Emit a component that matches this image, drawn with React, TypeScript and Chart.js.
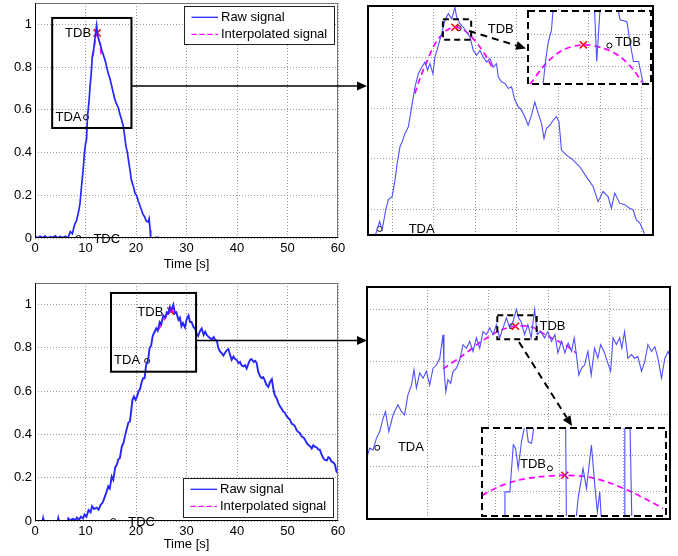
import React, { useEffect, useRef } from "react";
import { Chart, registerables } from "chart.js";

Chart.register(...registerables);

const FONT = '"Liberation Sans", Arial, Helvetica, sans-serif';
const BLUE = "#2626ff";
const MAGENTA = "#ff00ff";
const RED = "#ff0000";
const GRID = "#9a9a9a";

const seriesNames = ["Raw signal", "Interpolated signal"];
const markerNames = ["TDA", "TDB", "TDC"];
const xTitleText = "Time [s]";

// ---------- main plot ticks ----------
const mainXTicks = [0, 10, 20, 30, 40, 50, 60];
const mainYTicks = [0, 0.2, 0.4, 0.6, 0.8, 1];

// ---------- TOP: main plot ----------
const topMainT = [0, 0.5, 1, 1.5, 2, 2.5, 3, 3.5, 4, 4.5, 5, 5.5, 6, 6.5, 7, 7.4, 7.8, 8.2, 8.6, 8.9, 9.2, 9.5, 9.8, 10.0, 10.2, 10.4, 10.7, 10.9, 11.1, 11.35, 11.6, 11.9, 12.2, 12.4, 12.6, 12.9, 13.2, 13.5, 13.9, 14.2, 14.5, 14.8, 15.1, 15.5, 15.8, 16.1, 16.5, 16.8, 17.2, 17.5, 17.8, 18.0, 18.3, 18.6, 18.8, 19.1, 19.5, 19.8, 20.1, 20.5, 20.8, 21.1, 21.4, 21.7, 22.0, 22.4, 22.6, 22.8, 22.9, 23.5, 24.3, 24.5];
const topMainV = [0.01, 0, 0.008, 0.002, 0.009, 0, 0.006, 0.003, 0.01, 0, 0.007, 0.001, 0.008, 0, 0.03, 0.02, 0.06, 0.08, 0.12, 0.16, 0.24, 0.31, 0.4, 0.44, 0.46, 0.57, 0.64, 0.71, 0.76, 0.85, 0.88, 0.94, 0.995, 0.95, 0.93, 0.91, 0.88, 0.86, 0.83, 0.8, 0.77, 0.75, 0.72, 0.68, 0.65, 0.63, 0.61, 0.58, 0.55, 0.52, 0.47, 0.43, 0.4, 0.35, 0.32, 0.27, 0.24, 0.21, 0.2, 0.17, 0.15, 0.13, 0.11, 0.1, 0.08, 0.075, 0.09, 0.037, 0, 0, 0.004, 0];
const topMainInterpT = [11.5, 11.8, 12.05, 12.3, 12.6, 12.85, 13.1];
const topMainInterpV = [0.85, 0.9, 0.94, 0.96, 0.94, 0.9, 0.86];
const topMainTDA = { x: 10.1, y: 0.565 };
const topMainTDB = { x: 12.3, y: 0.96 };
const topMainTDC = { x: 8.6, y: 0 };
const topMainBox = { x0: 3.4, x1: 19.1, y0: 0.515, y1: 1.03 };

// ---------- TOP: zoomed plot ----------
const topZoomXTicks = [11, 12, 13, 14, 15, 16, 17];
const topZoomYTicks = [0.6, 0.7, 0.8, 0.9];
const topZoomT = [10.55, 10.6, 10.7, 10.76, 10.85, 10.91, 11.0, 11.07, 11.12, 11.19, 11.25, 11.31, 11.39, 11.47, 11.55, 11.63, 11.71, 11.79, 11.85, 11.91, 11.98, 12.03, 12.11, 12.19, 12.27, 12.35, 12.43, 12.47, 12.51, 12.55, 12.63, 12.71, 12.79, 12.87, 12.95, 13.03, 13.11, 13.19, 13.27, 13.35, 13.43, 13.51, 13.55, 13.63, 13.71, 13.79, 13.87, 13.95, 14.03, 14.11, 14.19, 14.27, 14.35, 14.43, 14.51, 14.59, 14.65, 14.71, 14.79, 14.87, 14.95, 15.01, 15.07, 15.19, 15.35, 15.51, 15.67, 15.83, 15.95, 16.07, 16.19, 16.27, 16.35, 16.47, 16.59, 16.71, 16.79, 16.87, 16.95, 17.03, 17.07, 17.1];
const topZoomV = [0.54, 0.549, 0.576, 0.559, 0.6, 0.619, 0.625, 0.658, 0.69, 0.724, 0.735, 0.75, 0.763, 0.803, 0.842, 0.868, 0.881, 0.891, 0.875, 0.888, 0.868, 0.901, 0.924, 0.947, 0.974, 0.987, 0.977, 0.987, 1.0, 0.98, 0.967, 0.96, 0.95, 0.941, 0.914, 0.905, 0.914, 0.901, 0.891, 0.898, 0.881, 0.888, 0.862, 0.852, 0.849, 0.839, 0.842, 0.816, 0.803, 0.796, 0.783, 0.766, 0.786, 0.812, 0.79, 0.77, 0.74, 0.76, 0.766, 0.776, 0.783, 0.773, 0.717, 0.707, 0.697, 0.684, 0.664, 0.645, 0.615, 0.635, 0.625, 0.602, 0.632, 0.612, 0.609, 0.602, 0.599, 0.579, 0.573, 0.559, 0.549, 0.54];
const topZoomInterpT = [11.55, 11.67, 11.83, 11.99, 12.15, 12.31, 12.51, 12.71, 12.91, 13.11, 13.27, 13.43];
const topZoomInterpV = [0.829, 0.859, 0.891, 0.921, 0.941, 0.954, 0.96, 0.955, 0.941, 0.921, 0.901, 0.877];
const topZoomTDA = { x: 10.7, y: 0.561 };
const topZoomTDBx = { x: 12.51, y: 0.96 };
const topZoomTDBo = { x: 12.6, y: 0.958 };
const topZoomBox = { x0: 12.22, x1: 12.9, y0: 0.935, y1: 0.976 };

// ---------- TOP: inset ----------
const topInsetXTicks = [12.553];
const topInsetYTicks = [0.9448, 0.963];
const topInsetT = [12.298, 12.318, 12.331, 12.35, 12.368, 12.585, 12.588, 12.6, 12.618, 12.621, 12.711, 12.718, 12.729, 12.767, 12.785, 12.803, 12.831, 12.841, 12.856, 12.868];
const topInsetV = [0.93, 0.9486, 0.9579, 0.9654, 0.99, 0.99, 0.9766, 0.9476, 0.9766, 0.99, 0.99, 0.9766, 0.971, 0.97, 0.9579, 0.9476, 0.9476, 0.943, 0.9356, 0.929];
const topInsetInterpT = [12.232, 12.322, 12.414, 12.526, 12.637, 12.729, 12.803, 12.85];
const topInsetInterpV = [0.935, 0.9468, 0.9542, 0.957, 0.9551, 0.9504, 0.943, 0.9359];
const topInsetTDBx = { x: 12.526, y: 0.957 };
const topInsetTDBo = { x: 12.67, y: 0.9566 };

// ---------- BOTTOM: main plot ----------
const botMainT = [0, 1.5, 1.6, 1.7, 4.5, 4.6, 4.7, 6.5, 6.6, 7.0, 7.5, 8.0, 8.3, 8.7, 9.1, 9.5, 9.8, 10.2, 10.6, 11.0, 11.3, 11.7, 12.2, 12.6, 13.0, 13.4, 13.8, 14.1, 14.5, 14.8, 15.2, 15.5, 15.9, 16.2, 16.5, 16.8, 17.2, 17.5, 17.8, 18.1, 18.5, 18.8, 19.0, 19.3, 19.6, 19.9, 20.2, 20.5, 20.8, 21.1, 21.4, 21.7, 22.0, 22.4, 22.7, 23.0, 23.3, 23.6, 24.0, 24.3, 24.7, 25.0, 25.4, 25.8, 26.1, 26.4, 26.7, 27.0, 27.4, 27.7, 28.0, 28.4, 28.7, 29.0, 29.3, 29.7, 30.0, 30.4, 30.7, 31.0, 31.4, 31.7, 32.0, 32.3, 32.7, 33.0, 33.4, 33.7, 34.0, 34.4, 34.7, 35.0, 35.4, 35.7, 36.0, 36.3, 36.6, 37.0, 37.3, 37.7, 38.0, 38.3, 38.6, 38.95, 39.3, 39.6, 39.9, 40.3, 40.6, 40.9, 41.3, 41.6, 41.9, 42.3, 42.6, 42.9, 43.3, 43.6, 43.9, 44.2, 44.55, 44.9, 45.2, 45.5, 45.8, 46.2, 46.5, 46.9, 47.2, 47.5, 47.8, 48.2, 48.5, 48.8, 49.2, 49.5, 49.8, 50.2, 50.5, 50.8, 51.2, 51.5, 51.8, 52.2, 52.5, 52.8, 53.2, 53.5, 53.8, 54.2, 54.5, 54.8, 55.1, 55.4, 55.8, 56.1, 56.4, 56.7, 57.1, 57.4, 57.8, 58.1, 58.4, 58.7, 59.1, 59.4, 59.7, 60];
const botMainV = [0, 0, 0.012, 0, 0, 0.012, 0, 0, 0.012, 0.003, 0.01, 0.004, 0.016, 0.006, 0.02, 0.012, 0.03, 0.02, 0.05, 0.04, 0.068, 0.055, 0.062, 0.052, 0.075, 0.085, 0.11, 0.13, 0.16, 0.15, 0.205, 0.19, 0.25, 0.26, 0.285, 0.29, 0.345, 0.36, 0.39, 0.42, 0.455, 0.46, 0.5, 0.56, 0.575, 0.56, 0.575, 0.6, 0.61, 0.64, 0.66, 0.66, 0.72, 0.745, 0.8, 0.81, 0.855, 0.87, 0.89, 0.88, 0.92, 0.91, 0.95, 0.94, 0.965, 0.96, 0.99, 0.975, 1.0, 0.96, 0.965, 0.93, 0.94, 0.9, 0.915, 0.895, 0.93, 0.95, 0.92, 0.92, 0.895, 0.89, 0.865, 0.855, 0.88, 0.89, 0.86, 0.875, 0.86, 0.85, 0.845, 0.84, 0.85, 0.835, 0.835, 0.8, 0.785, 0.775, 0.765, 0.78, 0.79, 0.795, 0.77, 0.745, 0.76, 0.75, 0.745, 0.73, 0.735, 0.72, 0.715, 0.72, 0.705, 0.73, 0.745, 0.748, 0.735, 0.74, 0.73, 0.69, 0.67, 0.66, 0.665, 0.65, 0.63, 0.62, 0.64, 0.655, 0.61, 0.58, 0.57, 0.545, 0.53, 0.52, 0.505, 0.5, 0.485, 0.475, 0.468, 0.45, 0.445, 0.437, 0.42, 0.41, 0.405, 0.39, 0.385, 0.375, 0.36, 0.35, 0.345, 0.335, 0.35, 0.344, 0.34, 0.33, 0.33, 0.31, 0.29, 0.282, 0.28, 0.295, 0.29, 0.275, 0.27, 0.26, 0.228, 0.22];
const botMainTDA = { x: 22.2, y: 0.74 };
const botMainTDB = { x: 26.9, y: 0.97 };
const botMainTDC = { x: 15.5, y: 0 };
const botMainBox = { x0: 15.05, x1: 31.9, y0: 0.69, y1: 1.054 };

// ---------- BOTTOM: zoomed plot ----------
const botZoomXTicks = [24, 26, 28, 30];
const botZoomYTicks = [0.7, 0.8, 0.9, 1.0];
const botZoomT = [21.9, 21.98, 22.09, 22.2, 22.31, 22.42, 22.53, 22.61, 22.72, 22.86, 23.02, 23.14, 23.24, 23.35, 23.47, 23.55, 23.63, 23.74, 23.85, 23.96, 24.07, 24.18, 24.29, 24.4, 24.51, 24.54, 24.6, 24.67, 24.76, 24.84, 24.95, 25.06, 25.17, 25.28, 25.39, 25.5, 25.61, 25.72, 25.83, 25.94, 26.05, 26.16, 26.27, 26.38, 26.49, 26.6, 26.71, 26.82, 26.93, 27.0, 27.09, 27.2, 27.31, 27.42, 27.53, 27.62, 27.73, 27.86, 27.97, 28.09, 28.2, 28.3, 28.42, 28.53, 28.64, 28.75, 28.84, 28.91, 28.99, 29.08, 29.18, 29.29, 29.4, 29.51, 29.62, 29.71, 29.82, 29.93, 30.04, 30.12, 30.23, 30.34, 30.41, 30.5, 30.61, 30.73, 30.83, 30.94, 31.06, 31.17, 31.27, 31.39, 31.5, 31.6, 31.72, 31.83, 31.94, 32.0];
const botZoomV = [0.7, 0.716, 0.735, 0.732, 0.754, 0.767, 0.792, 0.805, 0.767, 0.799, 0.818, 0.805, 0.799, 0.837, 0.856, 0.885, 0.85, 0.879, 0.869, 0.882, 0.856, 0.888, 0.894, 0.907, 0.952, 0.888, 0.843, 0.866, 0.859, 0.882, 0.888, 0.904, 0.933, 0.926, 0.939, 0.92, 0.946, 0.926, 0.958, 0.952, 0.965, 0.952, 0.971, 0.946, 0.965, 0.984, 0.965, 0.977, 1.0, 0.984, 0.977, 0.952, 0.971, 0.946, 1.0, 0.952, 0.958, 0.946, 0.958, 0.939, 0.952, 0.917, 0.939, 0.917, 0.936, 0.92, 0.946, 0.914, 0.875, 0.888, 0.894, 0.92, 0.875, 0.926, 0.907, 0.933, 0.92, 0.901, 0.882, 0.946, 0.933, 0.946, 0.926, 0.958, 0.907, 0.914, 0.907, 0.91, 0.882, 0.901, 0.933, 0.92, 0.929, 0.907, 0.869, 0.907, 0.92, 0.91];
const botInterpT = [24.51, 25.11, 25.77, 26.43, 26.9, 27.42, 27.97, 28.53, 28.91];
const botInterpV = [0.887, 0.91, 0.939, 0.961, 0.968, 0.967, 0.949, 0.933, 0.917];
const botZoomTDA = { x: 22.34, y: 0.736 };
const botZoomTDBx = { x: 26.9, y: 0.968 };
const botZoomTDBo = { x: 26.78, y: 0.968 };
const botZoomBox = { x0: 26.3, x1: 27.6, y0: 0.943, y1: 0.989 };

// ---------- BOTTOM: inset ----------
const botInsetXTicks = [26.396, 26.85, 27.301];
const botInsetYTicks = [0.9556, 0.9748];
const botInsetT = [26.457, 26.462, 26.497, 26.521, 26.537, 26.556, 26.579, 26.603, 26.615, 26.627, 26.65, 26.662, 26.674, 26.89, 26.897, 26.956, 26.979, 27.014, 27.038, 27.073, 27.097, 27.115, 27.132, 27.148, 27.308, 27.309, 27.344, 27.36];
const botInsetV = [0.935, 0.9556, 0.9556, 0.9801, 0.9783, 0.9679, 0.9818, 0.9906, 0.9888, 0.9818, 0.981, 0.9871, 0.998, 0.998, 0.935, 0.935, 0.9521, 0.9679, 0.9574, 0.9801, 0.959, 0.9451, 0.9556, 0.935, 0.935, 0.998, 0.998, 0.935];
const botInsetInterpT = [26.302, 26.415, 26.556, 26.697, 26.88, 27.05, 27.214, 27.355, 27.496, 27.579];
const botInsetInterpV = [0.9538, 0.9582, 0.9617, 0.9634, 0.9643, 0.9634, 0.96, 0.9556, 0.9503, 0.9469];
const botInsetTDBx = { x: 26.885, y: 0.9643 };
const botInsetTDBo = { x: 26.78, y: 0.9679 };

type P = { x: number; y: number };
const pts = (t: number[], v: number[]): P[] => t.map((x, i) => ({ x, y: v[i] }));

interface Label { text: string; at: P; dx: number; dy: number; align: CanvasTextAlign }
interface Box { x0: number; x1: number; y0: number; y1: number }
interface Panel {
  key: string;
  left: number; top: number; width: number; height: number;
  pad: { left: number; top: number; right: number; bottom: number };
  yW: number; xH: number;
  xR: [number, number]; yR: [number, number];
  xTicks: number[]; yTicks: number[];
  tickLabels: boolean; titlePad?: number;
  raw: P[]; rawWidth: number; rawColor: string;
  interp: P[]; interpWidth: number;
  crosses: P[]; circles: P[];
  labels: Label[];
  box?: Box; boxDashed?: boolean;
  frame: "axes" | "thick" | "dashed";
  legend?: { x: number; y: number; w: number; h: number };
  whiteBg?: boolean;
}

const fmt = (v: number) => String(Math.round(v * 10) / 10);

function overlay(p: Panel) {
  return {
    id: "ov_" + p.key,
    beforeDraw(chart: any) {
      if (!p.whiteBg) return;
      const { ctx, chartArea: a } = chart;
      ctx.save();
      ctx.fillStyle = "#fff";
      ctx.fillRect(a.left - 1, a.top - 1, a.right - a.left + 2, a.bottom - a.top + 2);
      ctx.restore();
    },
    afterDraw(chart: any) {
      const { ctx, chartArea: a, scales } = chart;
      const xs = scales.x, ys = scales.y;
      ctx.save();
      if (p.box) {
        const b = p.box;
        const x0 = xs.getPixelForValue(b.x0), x1 = xs.getPixelForValue(b.x1);
        const y0 = ys.getPixelForValue(b.y0), y1 = ys.getPixelForValue(b.y1);
        ctx.strokeStyle = "#000";
        ctx.lineWidth = 2;
        ctx.setLineDash(p.boxDashed ? [6, 4] : []);
        ctx.strokeRect(x0, y1, x1 - x0, y0 - y1);
        ctx.setLineDash([]);
      }
      ctx.font = `13px ${FONT}`;
      ctx.fillStyle = "#000";
      ctx.textBaseline = "middle";
      for (const l of p.labels) {
        ctx.textAlign = l.align;
        ctx.fillText(l.text, xs.getPixelForValue(l.at.x) + l.dx, ys.getPixelForValue(l.at.y) + l.dy);
      }
      if (p.legend) {
        const L = p.legend;
        ctx.fillStyle = "#fff";
        ctx.fillRect(L.x, L.y, L.w, L.h);
        ctx.strokeStyle = "#222";
        ctx.lineWidth = 1;
        ctx.strokeRect(L.x + 0.5, L.y + 0.5, L.w, L.h);
        const rows = [
          { name: seriesNames[0], color: BLUE, dash: [] as number[], dy: 11.3 },
          { name: seriesNames[1], color: MAGENTA, dash: [5, 3], dy: 28.3 },
        ];
        for (const r of rows) {
          ctx.strokeStyle = r.color;
          ctx.lineWidth = 1.3;
          ctx.setLineDash(r.dash);
          ctx.beginPath();
          ctx.moveTo(L.x + 7.5, L.y + r.dy);
          ctx.lineTo(L.x + 34, L.y + r.dy);
          ctx.stroke();
          ctx.setLineDash([]);
          ctx.fillStyle = "#000";
          ctx.textAlign = "left";
          ctx.fillText(r.name, L.x + 37, L.y + r.dy);
        }
      }
      const w = a.right - a.left, h = a.bottom - a.top;
      if (p.frame === "axes") {
        ctx.lineWidth = 1;
        ctx.strokeStyle = "#777";
        ctx.beginPath();
        ctx.moveTo(a.left, a.top + 0.5);
        ctx.lineTo(a.right - 0.5, a.top + 0.5);
        ctx.lineTo(a.right - 0.5, a.bottom);
        ctx.stroke();
        ctx.strokeStyle = "#000";
        ctx.beginPath();
        ctx.moveTo(a.left + 0.5, a.top);
        ctx.lineTo(a.left + 0.5, a.bottom - 0.5);
        ctx.lineTo(a.right, a.bottom - 0.5);
        ctx.stroke();
      } else {
        ctx.strokeStyle = "#000";
        ctx.lineWidth = 2;
        ctx.setLineDash(p.frame === "dashed" ? [7, 4] : []);
        ctx.strokeRect(a.left, a.top, w, h);
        ctx.setLineDash([]);
      }
      ctx.restore();
    },
  };
}

function config(p: Panel): any {
  const tickFont = { family: FONT, size: 13 };
  const mkAxis = (isX: boolean) => ({
    type: "linear",
    min: isX ? p.xR[0] : p.yR[0],
    max: isX ? p.xR[1] : p.yR[1],
    afterBuildTicks: (s: any) => {
      s.ticks = (isX ? p.xTicks : p.yTicks).map((v) => ({ value: v }));
    },
    afterFit: (s: any) => {
      if (isX) s.height = p.xH; else s.width = p.yW;
      s.paddingLeft = 0; s.paddingRight = 0; s.paddingTop = 0; s.paddingBottom = 0;
    },
    ticks: {
      display: p.tickLabels,
      font: tickFont,
      color: "#000",
      padding: 3,
      maxRotation: 0,
      autoSkip: false,
      callback: (v: any) => fmt(Number(v)),
    },
    grid: { color: GRID, lineWidth: 1, drawTicks: false },
    border: { display: false, dash: [1, 2] },
    title:
      isX && p.titlePad !== undefined
        ? { display: true, text: xTitleText, color: "#000", font: tickFont, padding: { top: 0, bottom: p.titlePad } }
        : { display: false },
  });
  return {
    type: "scatter",
    data: {
      datasets: [
        { label: seriesNames[0], data: p.raw, showLine: true, borderColor: p.rawColor, borderWidth: p.rawWidth, pointRadius: 0, tension: 0, clip: 0 },
        { label: seriesNames[1], data: p.interp, showLine: true, borderColor: MAGENTA, borderWidth: p.interpWidth, borderDash: [6, 4], pointRadius: 0, tension: 0.3, clip: 0 },
        { label: markerNames[1], data: p.crosses, showLine: false, pointStyle: "crossRot", pointRadius: 5, borderColor: RED, borderWidth: 1.5, clip: 0 },
        { label: "markers", data: p.circles, showLine: false, pointStyle: "circle", pointRadius: 2.5, borderColor: "#000", backgroundColor: "rgba(0,0,0,0)", borderWidth: 1, clip: 0 },
      ],
    },
    options: {
      responsive: false,
      animation: false,
      devicePixelRatio: 1,
      events: [],
      layout: { padding: p.pad, autoPadding: false },
      plugins: { legend: { display: false }, tooltip: { enabled: false }, title: { display: false } },
      scales: { x: mkAxis(true), y: mkAxis(false) },
    },
    plugins: [overlay(p)],
  };
}

const panels: Panel[] = [
  {
    key: "topMain", left: 0, top: 0, width: 350, height: 280,
    pad: { left: 0, top: 3, right: 12, bottom: 0 }, yW: 35, xH: 42,
    xR: [0, 60], yR: [0, 1.1], xTicks: mainXTicks, yTicks: mainYTicks, tickLabels: true, titlePad: 8,
    raw: pts(topMainT, topMainV), rawWidth: 1.7, rawColor: BLUE,
    interp: pts(topMainInterpT, topMainInterpV), interpWidth: 1.4,
    crosses: [topMainTDB], circles: [topMainTDA, topMainTDC],
    labels: [
      { text: markerNames[1], at: topMainTDB, dx: -6, dy: 1, align: "right" },
      { text: markerNames[0], at: topMainTDA, dx: -4.5, dy: 0, align: "right" },
      { text: markerNames[2], at: topMainTDC, dx: 15, dy: 1, align: "left" },
    ],
    box: topMainBox, frame: "axes", legend: { x: 184, y: 6, w: 150, h: 38 },
  },
  {
    key: "botMain", left: 0, top: 278, width: 350, height: 278,
    pad: { left: 0, top: 5, right: 12, bottom: 0 }, yW: 35, xH: 35,
    xR: [0, 60], yR: [0, 1.1], xTicks: mainXTicks, yTicks: mainYTicks, tickLabels: true, titlePad: 3.5,
    raw: pts(botMainT, botMainV), rawWidth: 1.9, rawColor: BLUE,
    interp: pts(botInterpT, botInterpV), interpWidth: 1.4,
    crosses: [botMainTDB], circles: [botMainTDA, botMainTDC],
    labels: [
      { text: markerNames[1], at: botMainTDB, dx: -7.5, dy: 1, align: "right" },
      { text: markerNames[0], at: botMainTDA, dx: -7, dy: 0, align: "right" },
      { text: markerNames[2], at: botMainTDC, dx: 15, dy: 1, align: "left" },
    ],
    box: botMainBox, frame: "axes", legend: { x: 183, y: 200, w: 150, h: 39 },
  },
  {
    key: "topZoom", left: 360, top: 0, width: 300, height: 242,
    pad: { left: 8, top: 6, right: 7, bottom: 7 }, yW: 0, xH: 0,
    xR: [10.42, 17.27], yR: [0.549, 1.002], xTicks: topZoomXTicks, yTicks: topZoomYTicks, tickLabels: false,
    raw: pts(topZoomT, topZoomV), rawWidth: 1.1, rawColor: "#4f4fff",
    interp: pts(topZoomInterpT, topZoomInterpV), interpWidth: 1.7,
    crosses: [topZoomTDBx], circles: [topZoomTDA, topZoomTDBo],
    labels: [
      { text: markerNames[0], at: topZoomTDA, dx: 29, dy: 0, align: "left" },
      { text: markerNames[1], at: topZoomTDBo, dx: 29, dy: 1.5, align: "left" },
    ],
    box: topZoomBox, boxDashed: true, frame: "thick",
  },
  {
    key: "botZoom", left: 360, top: 280, width: 318, height: 245,
    pad: { left: 7, top: 7, right: 8, bottom: 6 }, yW: 0, xH: 0,
    xR: [22, 32], yR: [0.6, 1.043], xTicks: botZoomXTicks, yTicks: botZoomYTicks, tickLabels: false,
    raw: pts(botZoomT, botZoomV), rawWidth: 1.1, rawColor: "#4f4fff",
    interp: pts(botInterpT, botInterpV), interpWidth: 1.7,
    crosses: [botZoomTDBx], circles: [botZoomTDA, botZoomTDBo],
    labels: [
      { text: markerNames[0], at: botZoomTDA, dx: 20.6, dy: 0, align: "left" },
      { text: markerNames[1], at: botZoomTDBx, dx: 24, dy: 0.5, align: "left" },
    ],
    box: botZoomBox, boxDashed: true, frame: "thick",
  },
  {
    key: "topInset", left: 520, top: 3, width: 140, height: 90,
    pad: { left: 8, top: 8, right: 9, bottom: 9 }, yW: 0, xH: 0,
    xR: [12.22, 12.9], yR: [0.935, 0.976], xTicks: topInsetXTicks, yTicks: topInsetYTicks, tickLabels: false,
    raw: pts(topInsetT, topInsetV), rawWidth: 1.1, rawColor: "#4f4fff",
    interp: pts(topInsetInterpT, topInsetInterpV), interpWidth: 1.7,
    crosses: [topInsetTDBx], circles: [topInsetTDBo],
    labels: [{ text: markerNames[1], at: topInsetTDBo, dx: 5.5, dy: -3, align: "left" }],
    frame: "dashed", whiteBg: true,
  },
  {
    key: "botInset", left: 474, top: 420, width: 200, height: 104,
    pad: { left: 8, top: 8, right: 8, bottom: 8 }, yW: 0, xH: 0,
    xR: [26.3, 27.6], yR: [0.943, 0.989], xTicks: botInsetXTicks, yTicks: botInsetYTicks, tickLabels: false,
    raw: pts(botInsetT, botInsetV), rawWidth: 1.1, rawColor: "#4f4fff",
    interp: pts(botInsetInterpT, botInsetInterpV), interpWidth: 1.7,
    crosses: [botInsetTDBx], circles: [botInsetTDBo],
    labels: [{ text: markerNames[1], at: botInsetTDBo, dx: -4, dy: -3.5, align: "right" }],
    frame: "dashed", whiteBg: true,
  },
];

function ChartPanel({ p }: { p: Panel }) {
  const ref = useRef<HTMLCanvasElement>(null);
  useEffect(() => {
    const chart = new Chart(ref.current as HTMLCanvasElement, config(p));
    return () => chart.destroy();
  }, [p]);
  return (
    <canvas
      ref={ref}
      width={p.width}
      height={p.height}
      style={{ position: "absolute", left: p.left, top: p.top, width: p.width, height: p.height }}
    />
  );
}

function Arrow({ x1, y1, x2, y2, dashed, w }: { x1: number; y1: number; x2: number; y2: number; dashed?: boolean; w: number }) {
  const ang = Math.atan2(y2 - y1, x2 - x1);
  const L = 10, H = 4.5;
  const bx = x2 - L * Math.cos(ang), by = y2 - L * Math.sin(ang);
  const px = -Math.sin(ang) * H, py = Math.cos(ang) * H;
  return (
    <g>
      <line x1={x1} y1={y1} x2={bx} y2={by} stroke="#000" strokeWidth={w} strokeDasharray={dashed ? "7,5" : undefined} />
      <polygon points={`${x2},${y2} ${bx + px},${by + py} ${bx - px},${by - py}`} fill="#000" />
    </g>
  );
}

export default function App() {
  return (
    <div style={{ position: "absolute", left: 0, top: 0, width: 678, height: 556, overflow: "hidden", background: "#fff" }}>
      {panels.map((p) => (
        <ChartPanel key={p.key} p={p} />
      ))}
      <svg width={678} height={556} style={{ position: "absolute", left: 0, top: 0, pointerEvents: "none" }}>
        <Arrow x1={132} y1={86} x2={367} y2={86} w={1.5} />
        <Arrow x1={197} y1={340.5} x2={367} y2={340.5} w={1.5} />
        <Arrow x1={469} y1={31} x2={526} y2={48.5} w={2} dashed />
        <Arrow x1={519} y1={342} x2={572} y2={426} w={2} dashed />
      </svg>
    </div>
  );
}
